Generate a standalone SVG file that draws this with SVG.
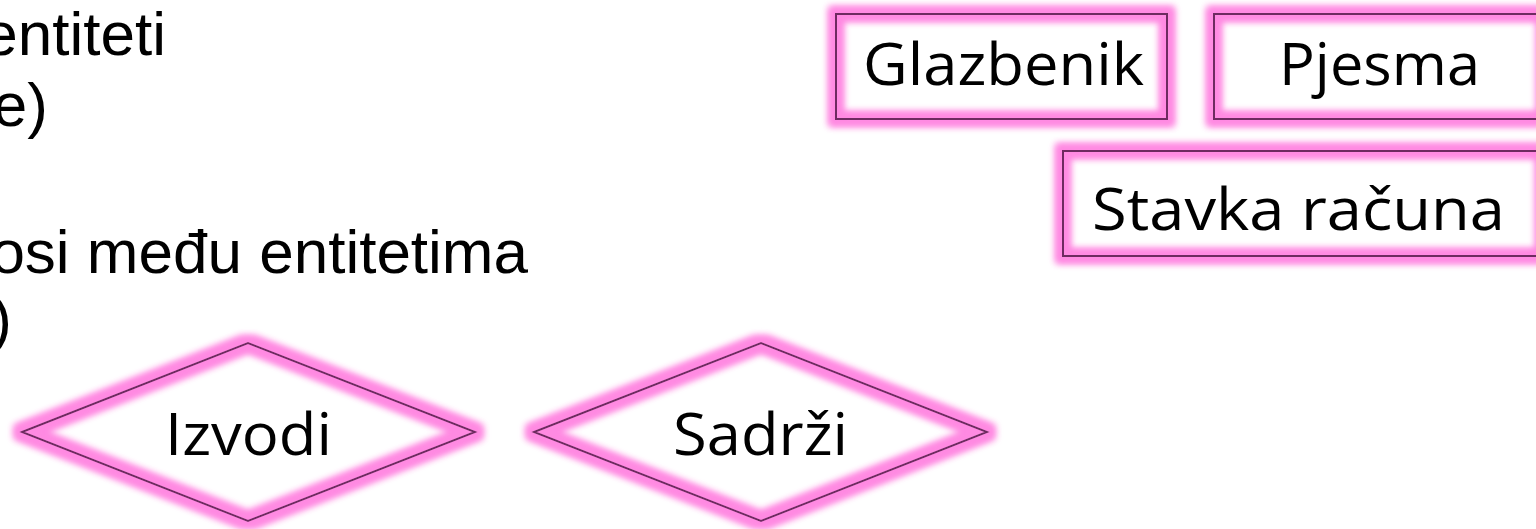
<svg xmlns="http://www.w3.org/2000/svg" width="1536" height="529" viewBox="0 0 1536 529">
  <defs>
    <filter id="glow" x="-20%" y="-30%" width="140%" height="160%">
      <feMorphology in="SourceAlpha" operator="dilate" radius="6" result="d"/>
      <feGaussianBlur in="d" stdDeviation="3.5" result="b"/>
      <feFlood flood-color="#ff8ae2"/>
      <feComposite in2="b" operator="in" result="g"/>
      <feMerge>
        <feMergeNode in="g"/>
        <feMergeNode in="g"/>
        <feMergeNode in="SourceGraphic"/>
      </feMerge>
    </filter>
  </defs>
  <style>
    .bullet { font-family: "Liberation Sans", Arial, sans-serif; font-size: 62px; fill: #000; }
    .shape { fill: none; stroke: #6e2a60; stroke-width: 2; filter: url(#glow); }
    .label { font-family: "Open Sans", "Noto Sans", sans-serif; font-size: 59px; fill: #000; }
  </style>
  <rect width="1536" height="529" fill="#fff"/>

  <g id="text-left">
    <text class="bullet" x="166" y="55" text-anchor="end">entiteti</text>
    <text class="bullet" x="48" y="126" text-anchor="end">e)</text>
    <text class="bullet" x="528" y="273" text-anchor="end">osi među entitetima</text>
    <text class="bullet" x="12" y="340" text-anchor="end">)</text>
  </g>

  <g id="connectors"></g>

  <g id="glazbenik">
    <rect class="shape" x="836" y="14" width="331" height="105"/>
    <text class="label" x="863" y="85" textLength="281" lengthAdjust="spacingAndGlyphs">Glazbenik</text>
  </g>
  <g id="pjesma">
    <rect class="shape" x="1214" y="14" width="330" height="105"/>
    <text class="label" x="1279" y="85" textLength="201" lengthAdjust="spacingAndGlyphs">Pjesma</text>
  </g>
  <g id="stavka">
    <rect class="shape" x="1063" y="151" width="480" height="105"/>
    <text class="label" x="1092" y="230" textLength="413" lengthAdjust="spacingAndGlyphs">Stavka računa</text>
  </g>
  <g id="izvodi">
    <polygon class="shape" points="22,432 248,343 475,432 248,521"/>
    <text class="label" x="165" y="455" textLength="167" lengthAdjust="spacingAndGlyphs">Izvodi</text>
  </g>
  <g id="sadrzi">
    <polygon class="shape" points="534,432 761,343 987,432 761,521"/>
    <text class="label" x="673" y="455" textLength="175" lengthAdjust="spacingAndGlyphs">Sadrži</text>
  </g>
</svg>
